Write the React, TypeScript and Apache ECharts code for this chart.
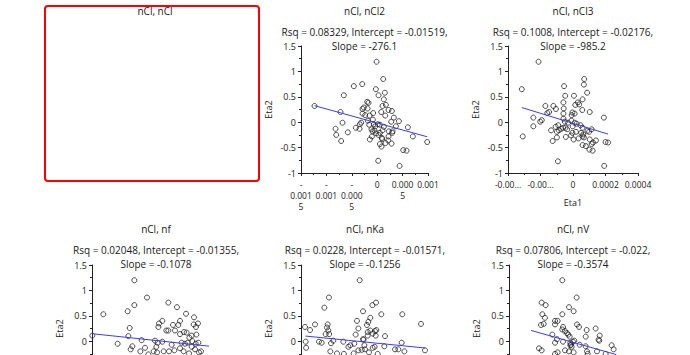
import React, { useEffect, useRef } from "react";
import * as echarts from "echarts";

// ---------- data ----------
const panelTitles = ["nCl, nCl2", "nCl, nCl3", "nCl, nf", "nCl, nKa", "nCl, nV"];
const blankTitle = "nCl, nCl";
const rsqLines = [
  "Rsq = 0.08329, Intercept = -0.01519,",
  "Rsq = 0.1008, Intercept = -0.02176,",
  "Rsq = 0.02048, Intercept = -0.01355,",
  "Rsq = 0.0228, Intercept = -0.01571,",
  "Rsq = 0.07806, Intercept = -0.022,",
];
const slopeLines = ["Slope = -276.1", "Slope = -985.2", "Slope = -0.1078", "Slope = -0.1256", "Slope = -0.3574"];
const intercepts = [-0.01519, -0.02176, -0.01355, -0.01571, -0.022];
const slopes = [-276.1, -985.2, -0.1078, -0.1256, -0.3574];
const fitRanges = [
  [-0.001234, 0.000984],
  [-0.000315, 0.000216],
  [-1.494, 0.785],
  [-0.93, 0.9375],
  [-0.656, 0.677],
];
const xMins = [-0.0015, -0.0004, -1.5, -1, -1];
const xMaxs = [0.001, 0.0004, 1, 1, 1];
const xIntervals = [0.0005, 0.0002, 0.5, 0.5, 0.5];
const nCl2TickLabels = ["-\n0.001\n5", "-\n0.001", "-\n0.000\n5", "0", "0.000\n5", "0.001"];
const nCl3TickLabels = ["-0.00...", "-0.00...", "0", "0.0002", "0.0004"];
const yTickLabels = ["-1", "-0.5", "0", "0.5", "1", "1.5"];
const yName = "Eta2";
const xName = "Eta1";

const nCl2Points = [
  [-0.000013, 1.19], [0.000118, 0.85], [-0.00046, 0.71], [-0.000295, 0.75], [-0.000026, 0.65], [-0.000657, 0.53], [0.000026, 0.53], [0.000151, 0.58], [0.000131, 0.45], [-0.000197, 0.4],
  [-0.000171, 0.38], [-0.000263, 0.29], [-0.000289, 0.26], [-0.00019, 0.27], [0.000105, 0.32], [0.000171, 0.34], [-0.001234, 0.32], [0.000223, 0.24], [0.000289, 0.22], [-0.000079, 0.18],
  [-0.000722, 0.2], [-0.000289, 0.17], [-0.000236, 0.14], [0.000079, 0.2], [-0.000151, 0.13], [-0.000184, 0.03], [0.000158, 0.13], [0.000328, 0.09], [0.000276, 0.01], [0.000427, 0.02],
  [-0.000085, 0.05], [-0.000683, -0.01], [-0.000315, -0.01], [-0.000341, -0.04], [-0.000066, -0.04], [-0.000039, -0.08], [0.000013, -0.04], [0.000053, -0.05], [0.000131, -0.09], [-0.000158, -0.05],
  [0.000368, -0.08], [0.000604, -0.1], [-0.00082, -0.13], [-0.00042, -0.11], [-0.000348, -0.13], [-0.000112, -0.14], [-0.000092, -0.18], [-0.000053, -0.16], [0.000105, -0.16], [0.000053, -0.21],
  [0.00023, -0.18], [0.000302, -0.18], [0.000295, -0.21], [-0.000578, -0.2], [-0.000807, -0.25], [-0.00002, -0.22], [0.000026, -0.25], [-0.000105, -0.28], [0.000223, -0.28], [0.000092, -0.31],
  [0.000098, -0.33], [-0.000144, -0.34], [0.000702, -0.28], [-0.000709, -0.37], [0.000217, -0.36], [0.000164, -0.41], [0.000282, -0.42], [0.000053, -0.43], [0.000085, -0.48], [0.000984, -0.39],
  [0.000512, -0.55], [0.000578, -0.56], [0.00002, -0.76], [0.00044, -0.86],
];

const nCl3Points = [
  [-0.000212, 1.19], [-0.000315, 0.65], [-0.000055, 0.71], [0.000069, 0.85], [0.000067, 0.74], [0.000087, 0.58], [-0.000048, 0.52], [0.000006, 0.52], [0.000059, 0.45], [-0.00017, 0.32],
  [-0.000121, 0.32], [-0.000105, 0.26], [-0.000059, 0.39], [0.00003, 0.39], [0.000014, 0.34], [0.000038, 0.35], [-0.000057, 0.27], [-0.000147, 0.2], [-0.000158, 0.18], [-0.000059, 0.17],
  [-0.000004, 0.19], [0.00001, 0.17], [-0.000008, 0.14], [0.000057, 0.24], [0.000103, 0.2], [-0.000244, 0.09], [-0.000192, 0.04], [-0.000202, 0.01], [-0.000059, 0.07], [-0.000244, -0.08],
  [0.00019, 0.09], [-0.000135, -0.16], [-0.000107, -0.09], [-0.000091, -0.06], [-0.00005, 0.01], [-0.00003, -0.01], [-0.00001, 0.03], [0.00001, -0.01], [0.000022, -0.03], [0.000046, -0.06],
  [-0.000073, -0.13], [-0.000061, -0.11], [-0.000046, -0.11], [-0.000036, -0.14], [-0.000002, -0.08], [0.000059, -0.11], [0.000115, -0.14], [-0.000099, -0.19], [-0.000087, -0.16], [-0.000004, -0.21],
  [0.000018, -0.19], [0.00005, -0.21], [0.000063, -0.24], [0.000067, -0.3], [0.000059, -0.28], [0.000089, -0.17], [0.000099, -0.19], [-0.000309, -0.28], [-0.000044, -0.29], [-0.000012, -0.26],
  [0.000004, -0.34], [-0.000099, -0.3], [0.000103, -0.34], [0.000034, -0.32], [0.000141, -0.36], [-0.000125, -0.37], [0.000123, -0.4], [0.000115, -0.43], [0.0002, -0.39], [0.000216, -0.4],
  [0.000059, -0.45], [0.000079, -0.47], [0.000101, -0.54], [0.000121, -0.56], [-0.000093, -0.77], [0.000192, -0.86],
];

const nfPoints = [
  [-0.673, 1.2], [-0.426, 0.86], [-1.279, 0.53], [-0.803, 0.59], [-0.673, 0.71], [-0.009, 0.76], [0.16, 0.67], [0.336, 0.54], [0.492, 0.47], [-0.126, 0.4],
  [-0.191, 0.35], [-0.204, 0.28], [0.082, 0.32], [0.219, 0.4], [0.186, 0.32], [0.57, 0.35], [0.486, 0.33], [0.531, 0.28], [-0.048, 0.21], [-0.009, 0.21],
  [0.121, 0.21], [-0.764, 0.26], [0.297, 0.18], [0.349, 0.17], [0.219, 0.14], [0.538, 0.13], [0.447, 0.11], [-0.79, 0.1], [-1.494, 0.11], [0.401, 0.07],
  [-0.53, 0.02], [-0.27, 0.01], [-0.217, -0.03], [-0.126, -0.01], [0.056, -0.07], [0.251, -0.03], [0.316, -0.05], [0.369, -0.03], [0.46, 0.0], [0.525, -0.05],
  [0.577, -0.03], [-0.999, -0.05], [-0.712, -0.1], [-0.745, -0.16], [-0.465, -0.13], [-0.556, -0.2], [-0.244, -0.11], [-0.296, -0.2], [-0.23, -0.22], [-0.4, -0.26],
  [-0.1, -0.2], [0.004, -0.2], [0.108, -0.18], [0.219, -0.14], [0.29, -0.2], [0.512, -0.16], [0.59, -0.22], [0.629, -0.2], [0.395, -0.24], [0.447, -0.11],
];

const nKaPoints = [
  [-0.083, 1.2], [-0.563, 0.86], [-0.635, 0.66], [0.172, 0.76], [0.115, 0.71], [-0.031, 0.59], [0.255, 0.53], [0.583, 0.53], [0.875, 0.34], [0.083, 0.46],
  [-0.125, 0.4], [0.052, 0.38], [0.031, 0.32], [-0.104, 0.25], [-0.583, 0.33], [-0.594, 0.27], [-0.573, 0.21], [-0.781, 0.33], [-0.9375, 0.28], [-0.859, 0.22],
  [-0.615, 0.14], [-0.56, 0.14], [0.042, 0.18], [0.083, 0.21], [0.156, 0.2], [0.177, 0.22], [-0.146, 0.13], [0.042, 0.11], [0.167, 0.11], [0.3125, 0.1],
  [0.12, 0.15], [-0.031, 0.04], [-0.021, 0.03], [-0.927, -0.01], [-0.92, -0.13], [-0.719, -0.01], [-0.677, -0.03], [-0.531, -0.04], [-0.495, 0.01], [-0.339, -0.01],
  [-0.26, -0.11], [-0.229, -0.08], [-0.167, -0.05], [-0.01, -0.08], [0.12, -0.13], [0.151, -0.11], [0.302, -0.1], [0.573, -0.03], [-0.542, -0.2], [-0.4375, -0.24],
  [-0.33, -0.25], [-0.177, -0.24], [-0.104, -0.18], [-0.052, -0.17], [0.0, -0.16], [0.0625, -0.22], [0.198, -0.25], [0.469, -0.16], [0.521, -0.16], [0.615, -0.2],
  [0.9375, -0.18],
];

const nVPoints = [
  [-0.167, 1.2], [0.057, 0.86], [-0.49, 0.76], [-0.427, 0.71], [-0.0625, 0.67], [0.01, 0.59], [-0.479, 0.53], [-0.438, 0.46], [-0.167, 0.53], [-0.281, 0.4],
  [-0.24, 0.4], [-0.281, 0.33], [-0.5, 0.32], [-0.458, 0.34], [0.063, 0.33], [0.094, 0.28], [-0.156, 0.28], [0.354, 0.25], [0.214, 0.22], [-0.167, 0.23],
  [-0.125, 0.2], [-0.094, 0.16], [-0.073, 0.13], [-0.323, 0.13], [-0.25, 0.04], [-0.052, 0.09], [0.198, 0.09], [0.417, 0.11], [0.4, 0.03], [0.41, 0.01],
  [-0.281, -0.03], [-0.156, -0.01], [-0.042, -0.03], [0.0, -0.01], [0.021, 0.01], [-0.042, -0.08], [-0.021, -0.11], [-0.031, -0.07], [0.104, -0.07], [0.198, -0.1],
  [-0.531, -0.14], [-0.49, -0.18], [-0.24, -0.22], [-0.281, -0.25], [-0.125, -0.18], [-0.0625, -0.2], [0.01, -0.22], [0.219, -0.2], [0.229, -0.25], [0.375, -0.2],
  [0.51, -0.25], [0.604, -0.08], [0.635, -0.16],
];

const panelPoints = [nCl2Points, nCl3Points, nfPoints, nKaPoints, nVPoints];

// ---------- layout ----------
const FONT = "'Open Sans', 'Noto Sans', sans-serif";
const TEXT = "#1a1a1a";
const TITLE_SIZE = 10;
const VIEW_H = 355;
const grids = [
  { left: 301, top: 46, width: 127, height: 127 },
  { left: 508, top: 46, width: 130, height: 127 },
  { left: 92, top: 265, width: 128, height: 127 },
  { left: 301, top: 265, width: 128, height: 127 },
  { left: 509, top: 265, width: 128, height: 127 },
];

function buildOption() {
  const xAxis: any[] = [];
  const yAxis: any[] = [];
  const series: any[] = [];
  const graphic: any[] = [];

  graphic.push({
    type: "rect",
    shape: { x: 45, y: 6, width: 214, height: 175, r: 3 },
    style: { fill: "none", stroke: "#ff0000", lineWidth: 2 },
    z: 1,
  });
  graphic.push({
    type: "text",
    x: 155,
    y: 11,
    style: { text: blankTitle, align: "center", verticalAlign: "middle", fontSize: TITLE_SIZE, fontFamily: FONT, fill: TEXT },
    z: 2,
  });

  grids.forEach((g, i) => {
    const cx = g.left + g.width / 2;
    const rowTop = g.top === 46 ? 0 : 218;
    const bottomOffscreen = g.top + g.height > VIEW_H;
    [
      [panelTitles[i], 11],
      [rsqLines[i], 32],
      [slopeLines[i], 46],
    ].forEach(([t, dy]) => {
      graphic.push({
        type: "text",
        x: cx,
        y: rowTop + (dy as number),
        style: { text: t, align: "center", verticalAlign: "middle", fontSize: TITLE_SIZE, fontFamily: FONT, fill: TEXT },
      });
    });

    const tickLabels = i === 0 ? nCl2TickLabels : i === 1 ? nCl3TickLabels : null;
    xAxis.push({
      type: "value",
      gridIndex: i,
      min: xMins[i],
      max: xMaxs[i],
      interval: xIntervals[i],
      name: i === 1 ? xName : "",
      nameLocation: "middle",
      nameGap: 25,
      nameTextStyle: { fontSize: 9, fontFamily: FONT, color: TEXT },
      axisLine: { show: true, onZero: false, lineStyle: { color: "#222", width: 1 } },
      axisTick: { show: true, length: 3, lineStyle: { color: "#222" } },
      minorTick: { show: true, splitNumber: 2, length: 2, lineStyle: { color: "#222" } },
      splitLine: { show: false },
      axisLabel: {
        show: !bottomOffscreen,
        showMinLabel: true,
        showMaxLabel: true,
        hideOverlap: false,
        fontSize: 8.5,
        lineHeight: 11,
        margin: 6,
        fontFamily: FONT,
        color: TEXT,
        verticalAlign: "top",
        formatter: (v: number, idx: number) => (tickLabels ? tickLabels[idx] ?? "" : String(v)),
      },
    });
    yAxis.push({
      type: "value",
      gridIndex: i,
      min: -1,
      max: 1.5,
      interval: 0.5,
      name: yName,
      nameLocation: "middle",
      nameGap: 28,
      nameRotate: 90,
      nameTextStyle: { fontSize: 9, fontFamily: FONT, color: TEXT },
      axisLine: { show: true, onZero: false, lineStyle: { color: "#222", width: 1 } },
      axisTick: { show: true, length: 3, lineStyle: { color: "#222" } },
      minorTick: { show: true, splitNumber: 2, length: 2, lineStyle: { color: "#222" } },
      splitLine: { show: false },
      axisLabel: {
        fontSize: 9,
        margin: 5,
        fontFamily: FONT,
        color: TEXT,
        // labels below the visible page in the bottom row are left empty
        formatter: (_v: number, idx: number) => (bottomOffscreen && idx < 2 ? "" : yTickLabels[idx] ?? ""),
      },
    });

    series.push({
      type: "scatter",
      xAxisIndex: i,
      yAxisIndex: i,
      data: panelPoints[i],
      symbol: "circle",
      symbolSize: 5,
      silent: true,
      itemStyle: { color: "rgba(255,255,255,0)", borderColor: "#222", borderWidth: 1 },
      z: 2,
    });
    const [x0, x1] = fitRanges[i];
    series.push({
      type: "line",
      xAxisIndex: i,
      yAxisIndex: i,
      data: [
        [x0, intercepts[i] + slopes[i] * x0],
        [x1, intercepts[i] + slopes[i] * x1],
      ],
      showSymbol: false,
      symbol: "none",
      silent: true,
      lineStyle: { color: "#3c3cf5", width: 1 },
      z: 3,
    });
  });

  return {
    animation: false,
    backgroundColor: "#ffffff",
    grid: grids.map((g) => ({ ...g, containLabel: false, outerBoundsMode: "none" })),
    xAxis,
    yAxis,
    series,
    graphic,
  };
}

export default function App() {
  const ref = useRef<HTMLDivElement>(null);
  useEffect(() => {
    if (!ref.current) return;
    const chart = echarts.init(ref.current, null, { renderer: "svg" });
    chart.setOption(buildOption() as any);
    return () => chart.dispose();
  }, []);
  return (
    <div
      ref={ref}
      style={{ position: "absolute", left: 0, top: 0, width: 690, height: 355 }}
    />
  );
}
